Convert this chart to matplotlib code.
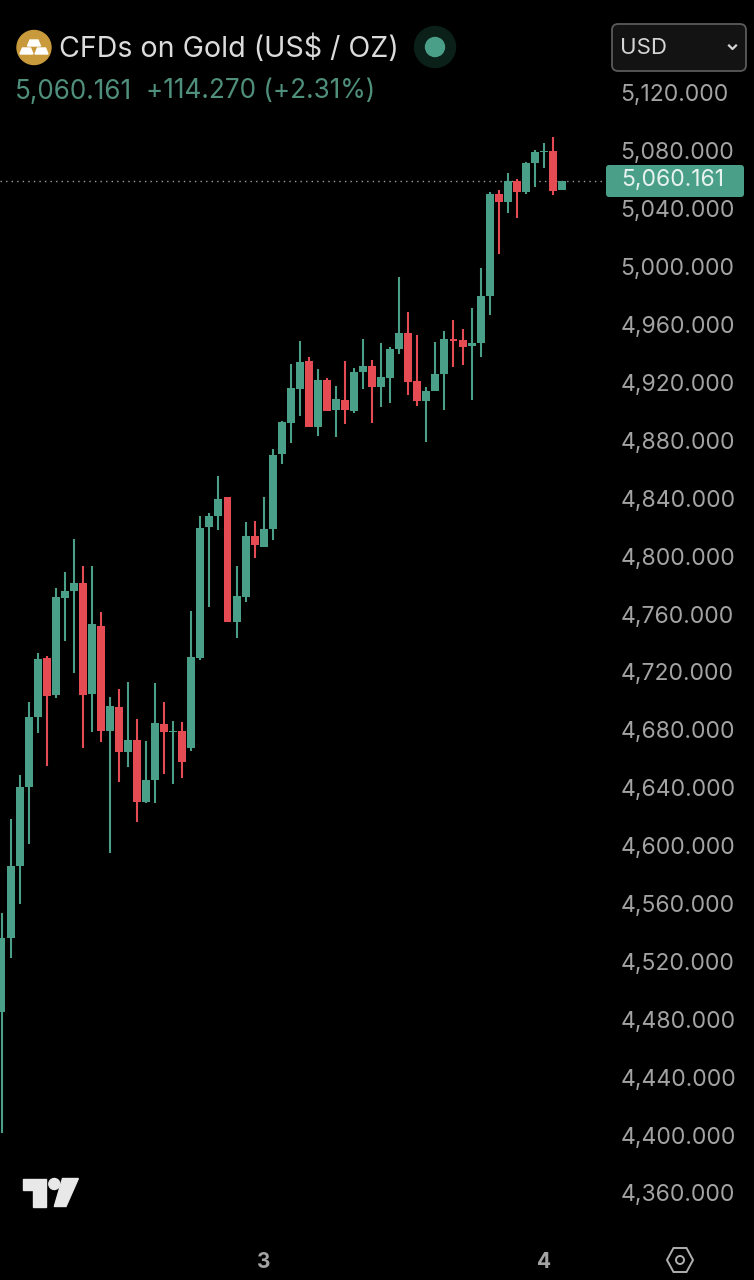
import matplotlib
matplotlib.use("Agg")
import matplotlib.pyplot as plt
from matplotlib.patches import Circle, FancyBboxPatch, Polygon, Rectangle
from matplotlib.transforms import ScaledTranslation

plt.rcParams['font.family'] = ['Inter', 'DejaVu Sans']

# candles
opens = [4485.8, 4536.9, 4586.6, 4641.2, 4689.6, 4730.3, 4704.8, 4771.8, 4776.6, 4782.1, 4705.5,
         4752.4, 4679.9, 4696.5, 4665.4, 4673.7, 4630.8, 4646.0, 4684.7, 4679.2, 4679.9, 4668.2,
         4730.3, 4820.8, 4828.4, 4841.6, 4755.2, 4772.5, 4814.6, 4807.0, 4819.5, 4871.3, 4892.7,
         4916.2, 4935.5, 4889.9, 4922.4, 4901.7, 4908.6, 4901.0, 4927.9, 4932.1, 4917.6, 4923.8,
         4943.8, 4954.9, 4921.7, 4907.9, 4914.8, 4926.5, 4950.7, 4950.0, 4945.9, 4948.0, 4980.4,
         5050.9, 5045.4, 5059.9, 5052.3, 5072.3, 5079.9, 5080.6, 5053.7]
closes = [4536.9, 4586.6, 4641.2, 4689.6, 4729.6, 4704.1, 4772.5, 4776.6, 4782.1, 4704.8, 4753.8,
          4679.9, 4697.2, 4665.4, 4673.7, 4630.8, 4646.0, 4685.4, 4679.2, 4679.9, 4658.5, 4731.0,
          4820.1, 4828.4, 4840.2, 4755.2, 4773.2, 4814.6, 4808.4, 4819.5, 4870.6, 4893.4, 4916.9,
          4934.8, 4889.9, 4922.4, 4901.0, 4909.3, 4901.7, 4927.9, 4932.1, 4917.6, 4924.5, 4943.8,
          4954.9, 4921.0, 4907.9, 4914.8, 4926.5, 4950.7, 4949.3, 4945.2, 4948.0, 4980.4, 5050.9,
          5045.4, 5059.9, 5052.3, 5072.3, 5079.9, 5080.6, 5053.0, 5060.161]
highs = [4554.2, 4619.1, 4649.5, 4699.9, 4733.8, 4731.7, 4778.7, 4789.8, 4812.5, 4793.9, 4793.9,
         4762.1, 4703.4, 4708.9, 4713.8, 4688.2, 4673.0, 4713.1, 4699.9, 4686.8, 4686.1, 4762.8,
         4828.4, 4830.5, 4856.1, 4841.6, 4793.9, 4824.3, 4825.0, 4841.6, 4874.7, 4894.1, 4933.5,
         4949.3, 4938.3, 4930.0, 4923.8, 4918.3, 4935.5, 4930.7, 4950.7, 4936.2, 4948.0, 4945.2,
         4993.6, 4969.4, 4953.5, 4917.6, 4948.7, 4956.3, 4963.9, 4957.6, 4972.1, 4999.8, 5052.3,
         5053.7, 5065.4, 5061.3, 5073.0, 5081.3, 5086.1, 5090.3, 5060.161]
lows = [4402.2, 4523.1, 4560.4, 4601.8, 4678.5, 4655.7, 4702.7, 4742.1, 4720.0, 4668.2, 4679.2,
        4672.3, 4595.6, 4644.7, 4655.0, 4617.0, 4630.2, 4630.2, 4650.2, 4643.3, 4647.4, 4666.1,
        4729.0, 4765.6, 4818.8, 4755.2, 4744.2, 4769.0, 4799.4, 4807.0, 4811.9, 4864.4, 4878.9,
        4897.5, 4889.9, 4883.7, 4901.0, 4883.0, 4892.0, 4899.6, 4916.2, 4892.7, 4903.7, 4906.5,
        4940.4, 4912.0, 4904.4, 4879.6, 4914.8, 4901.7, 4931.4, 4932.8, 4908.6, 4938.3, 4967.3,
        5009.5, 5037.8, 5034.3, 5050.9, 5055.7, 5068.9, 5050.2, 5053.7]

price_ticks = list(range(5120, 4359, -40))
price_labels = [f"{p:,}.000" for p in price_ticks]
day_ticks = [29, 60]
day_labels = ["3", "4"]
last_price = 5060.161

green = "#4a9f88"
red = "#e54b53"

W, H = 754, 1280
fig = plt.figure(figsize=(W / 100, H / 100), dpi=100, facecolor="black")

ax = fig.add_axes([0, 40 / H, 606 / W, 1240 / H], facecolor="black")
ax.set_xlim(-0.166, 66.87)
ax.set_ylim(4328.2, 5184.9)
for s in ax.spines.values():
    s.set_visible(False)

ax.axhline(last_price, color="#9a9f9d", lw=1, ls=(0, (1, 3)), zorder=1)

x = list(range(len(opens)))
colors = [green if c >= o else red for o, c in zip(opens, closes)]
ax.vlines(x, lows, highs, colors=colors, lw=1.5, zorder=2)
bottoms = [min(o, c) for o, c in zip(opens, closes)]
heights = [abs(c - o) for o, c in zip(opens, closes)]
ax.bar(x, heights, bottom=bottoms, width=0.88, color=colors, zorder=3)

ax.yaxis.tick_right()
ax.set_yticks(price_ticks, price_labels)
ax.tick_params(axis='y', length=0, pad=10.3, labelsize=16.5, labelcolor="#a3a3a3")
# labels sit a pixel above their price level
nudge = ScaledTranslation(0, 1 / 100, fig.dpi_scale_trans)
for t in ax.get_yticklabels():
    t.set_transform(t.get_transform() + nudge)
ax.set_xticks(day_ticks, day_labels)
ax.tick_params(axis='x', length=0, pad=9, labelsize=15, labelcolor="#a3a3a3")
for t in ax.get_xticklabels():
    t.set_fontweight("bold")

# header, badge, logo etc on a pixel overlay
ui = fig.add_axes([0, 0, 1, 1])
ui.set_xlim(0, W)
ui.set_ylim(H, 0)
ui.axis("off")

ui.add_patch(Circle((34, 47.5), 17, color="#c99a3c"))
for cx, cy in [(34, 43), (26.5, 51), (41.5, 51)]:
    ui.add_patch(Polygon([(cx - 6.5, cy + 3), (cx - 4, cy - 3), (cx + 4, cy - 3), (cx + 6.5, cy + 3)],
                         color="white"))
ui.text(59, 49, "CFDs on Gold (US$ / OZ)", fontsize=20.55, color="#dcdcdc", va="center", ha="left")
ui.add_patch(Circle((435, 47), 20.5, color="#0b2019"))
ui.add_patch(Circle((435, 47), 9.5, color=green))
ui.text(15, 91.5, "5,060.161", fontsize=18.8, color="#4f8f7c", va="center", ha="left")
ui.text(146, 91.5, "+114.270 (+2.31%)", fontsize=18.8, color="#4f8f7c", va="center", ha="left")

ui.add_patch(FancyBboxPatch((612, 24), 134, 47, boxstyle="round,pad=0,rounding_size=6",
                            fc="#131313", ec="#5a5a5a", lw=1.3))
ui.text(619.5, 48.5, "USD", fontsize=16, color="#d4d4d4", va="center", ha="left")
ui.plot([729, 732.5, 736], [45.5, 49, 45.5], color="#d4d4d4", lw=1.6)

ui.add_patch(FancyBboxPatch((606, 165), 138, 32, boxstyle="round,pad=0,rounding_size=3", fc=green, ec="none"))
ui.text(621, 180.5, "5,060.161", fontsize=16.5, color="#e8f3ef", va="center", ha="left")

ui.add_patch(Polygon([(22.5, 1178.5), (45.7, 1178.5), (45.7, 1206.5), (33, 1206.5), (33, 1190), (22.5, 1190)],
                     color="#e8e8e8"))
ui.add_patch(Circle((54.3, 1184), 5.5, color="#e8e8e8"))
ui.add_patch(Polygon([(62.5, 1178.5), (78.4, 1178.5), (66, 1206.5), (54.3, 1206.5)], color="#e8e8e8"))

ui.add_patch(Polygon([(667, 1260), (673.5, 1248), (686.5, 1248), (693, 1260), (686.5, 1272), (673.5, 1272)],
                     fill=False, ec="#b0b0b0", lw=1.4))
ui.add_patch(Circle((680, 1260), 4, fill=False, ec="#b0b0b0", lw=1.4))

fig.savefig("out.png", dpi=100, facecolor="black")
